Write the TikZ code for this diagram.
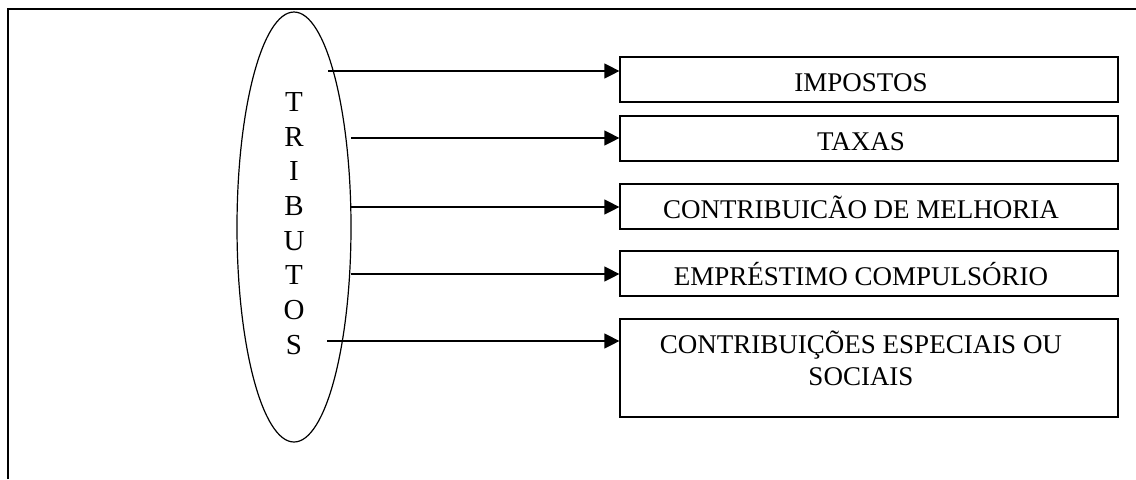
\documentclass[tikz,border=0pt]{standalone}
\usepackage{fontspec}
\setmainfont{Liberation Serif}
\usetikzlibrary{shapes.geometric, arrows.meta, positioning}

\begin{document}
\begin{tikzpicture}[x=0.5pt, y=-0.5pt,
  caixa/.style={draw, rectangle, line width=0.6pt, minimum width=249pt,
    minimum height=22.5pt, inner sep=0pt},
  rotulo/.style={font=\fontsize{13.5}{16}\selectfont, align=center,
    anchor=base, inner sep=0pt},
  seta/.style={line width=0.6pt, -{Triangle[length=7.5pt,width=7.5pt]}},
  line width=0.6pt]

  \useasboundingbox (0,0) rectangle (1136,479);
  % moldura
  \draw (8,479) -- (8,9) -- (1136,9);

  % elipse central
  \node[ellipse, draw, minimum width=57pt, minimum height=215pt,
    inner sep=0pt] (tributos) at (294,227) {};
  \node[font=\fontsize{14.5}{17.35}\selectfont, align=center, inner sep=0pt]
    (letras) at (294,223.5) {T\\R\\I\\B\\U\\T\\O\\S};

  % caixas
  \node[caixa] (impostos) at (869,79.5) {};
  \node[caixa] (taxas) at (869,138.5) {};
  \node[caixa] (melhoria) at (869,206.5) {};
  \node[caixa] (emprestimo) at (869,273.5) {};
  \node[caixa, minimum height=49pt] (sociais) at (869,368) {};

  \node[rotulo] (t1) at ([xshift=-4pt,yshift=-17.5pt]impostos.north) {IMPOSTOS};
  \node[rotulo] (t2) at ([xshift=-4pt,yshift=-17.5pt]taxas.north) {TAXAS};
  \node[rotulo] (t3) at ([xshift=-4pt,yshift=-17.5pt]melhoria.north) {CONTRIBUICÃO DE MELHORIA};
  \node[rotulo] (t4) at ([xshift=-4pt,yshift=-17.5pt]emprestimo.north) {EMPRÉSTIMO COMPULSÓRIO};
  \node[rotulo] (t5) at ([xshift=-4pt,yshift=-33.5pt]sociais.north) {CONTRIBUIÇÕES ESPECIAIS OU\\SOCIAIS};

  % setas
  \coordinate (s1) at (328,71);
  \coordinate (s2) at (351,138);
  \coordinate (s3) at (351,207);
  \coordinate (s4) at (351,274);
  \coordinate (s5) at (327,341);
  \draw[seta] (s1) -- (s1 -| impostos.west);
  \draw[seta] (s2) -- (s2 -| taxas.west);
  \draw[seta] (s3) -- (s3 -| melhoria.west);
  \draw[seta] (s4) -- (s4 -| emprestimo.west);
  \draw[seta] (s5) -- (s5 -| sociais.west);
\end{tikzpicture}
\end{document}
